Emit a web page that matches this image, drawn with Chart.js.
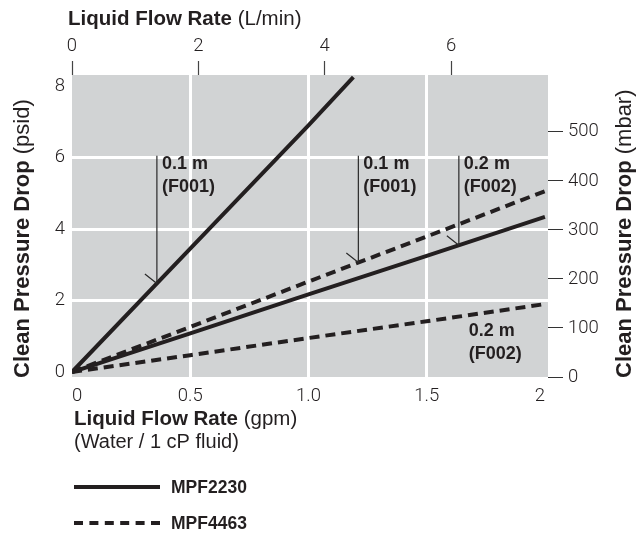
<!DOCTYPE html>
<html><head><meta charset="utf-8">
<script src="https://cdn.jsdelivr.net/npm/chart.js@4"></script>
<style>html,body{margin:0;padding:0;background:#fff;}canvas{display:block;}</style>
</head><body>
<canvas id="c" width="638" height="556" style="width:638px;height:556px"></canvas>
<script>
// ---- data ----
const flowGpm        = [0, 0.5, 1.0, 1.5, 2.0];
const mpf2230F001Gpm = [0, 0.5, 1.0, 1.19];
const mpf2230F001    = [0, 3.45, 6.90, 8.25];
const mpf2230F002    = [0, 1.08, 2.17, 3.25, 4.34];
const mpf4463F001    = [0, 1.26, 2.53, 3.79, 5.06];
const mpf4463F002    = [0, 0.47, 0.95, 1.42, 1.90];
const gpmTicks       = [0, 0.5, 1.0, 1.5, 2];
const gpmTickLabels  = ['0', '0.5', '1.0', '1.5', '2'];
const lpmTicks       = [0, 2, 4, 6];
const psidTicks      = [0, 2, 4, 6, 8];
const mbarTicks      = [0, 100, 200, 300, 400, 500];
const seriesNames    = ['MPF2230', 'MPF4463'];
const noteLabels     = [['0.1 m', '(F001)'], ['0.1 m', '(F001)'], ['0.2 m', '(F002)'], ['0.2 m', '(F002)']];

// ---- styling / layout ----
const FONT = "'Liberation Sans', Arial, Helvetica, sans-serif";
const TICKFONT = "Roboto, 'Liberation Sans', Arial, sans-serif";
const INK = '#231f20';
const BG = '#d1d3d4';
const W = 638, H = 556;
const AREA = {left: 72, right: 548, top: 75, bottom: 377};
Chart.defaults.font.family = FONT;
Chart.defaults.color = INK;
const tickFont = {family: TICKFONT, size: 18.5, weight: '300'};

function pts(xa, ya) { return xa.map((x, i) => ({x: x, y: ya[i]})); }
const solid = [], dashed = [10, 6];
const datasets = [
  {label: seriesNames[0] + ' F001', data: pts(mpf2230F001Gpm, mpf2230F001), borderDash: solid},
  {label: seriesNames[0] + ' F002', data: pts(flowGpm, mpf2230F002), borderDash: solid},
  {label: seriesNames[1] + ' F001', data: pts(flowGpm, mpf4463F001), borderDash: dashed},
  {label: seriesNames[1] + ' F002', data: pts(flowGpm, mpf4463F002), borderDash: dashed}
].map(d => Object.assign({borderColor: INK, borderWidth: 4, pointRadius: 0, fill: false,
  tension: 0, borderCapStyle: 'butt', xAxisID: 'x', yAxisID: 'y'}, d));

// annotation placement: dataset index, x (gpm) of arrow tip, leader top (psid)
const notes = [
  {ds: 0, x: 0.359, top: 6.05, arrow: true, label: noteLabels[0]},
  {ds: 2, x: 1.211, top: 6.05, arrow: true, label: noteLabels[1]},
  {ds: 1, x: 1.636, top: 6.05, arrow: true, label: noteLabels[2]},
  {ds: 3, x: 1.657, top: 1.37, arrow: false, label: noteLabels[3]}
];

function interp(data, x) {
  for (let i = 0; i < data.length - 1; i++) {
    const a = data[i], b = data[i + 1];
    if (x >= a.x && x <= b.x) return a.y + (b.y - a.y) * (x - a.x) / (b.x - a.x);
  }
  return data[data.length - 1].y;
}

function runs(ctx, x, y, parts, size) {
  let cx = x;
  parts.forEach(p => {
    ctx.font = (p.b ? 'bold ' : '') + size + 'px ' + FONT;
    ctx.fillText(p.t, cx, y);
    cx += ctx.measureText(p.t).width;
  });
}

const deco = {
  id: 'deco',
  beforeDraw(chart) {
    const c = chart.ctx, a = chart.chartArea;
    c.save();
    c.fillStyle = '#fff'; c.fillRect(0, 0, W, H);
    c.fillStyle = BG; c.fillRect(a.left, a.top, a.right - a.left, a.bottom - a.top);
    c.restore();
  },
  afterDatasetsDraw(chart) {
    const c = chart.ctx, sx = chart.scales.x, sy = chart.scales.y;
    c.save();
    notes.forEach(n => {
      const px = sx.getPixelForValue(n.x);
      const topPx = sy.getPixelForValue(n.top);
      if (n.arrow) {
        const tipY = sy.getPixelForValue(interp(chart.data.datasets[n.ds].data, n.x));
        c.strokeStyle = '#2a2a2a'; c.lineWidth = 1.2;
        c.beginPath();
        c.moveTo(px, topPx); c.lineTo(px, tipY);
        c.moveTo(px, tipY); c.lineTo(px - 12, tipY - 9.5);
        c.stroke();
      }
      c.fillStyle = INK;
      c.font = 'bold 18px ' + FONT;
      c.textBaseline = 'middle'; c.textAlign = 'left';
      c.fillText(n.label[0], px + 5, topPx + 8);
      c.fillText(n.label[1], px + 5, topPx + 31);
    });
    c.restore();
  },
  afterDraw(chart) {
    const c = chart.ctx;
    c.save();
    c.fillStyle = INK; c.textBaseline = 'alphabetic'; c.textAlign = 'left';
    runs(c, 68, 25, [{t: 'Liquid Flow Rate ', b: true}, {t: '(L/min)'}], 20.5);
    runs(c, 74, 425, [{t: 'Liquid Flow Rate ', b: true}, {t: '(gpm)'}], 20.5);
    runs(c, 74, 448, [{t: '(Water / 1 cP fluid)'}], 20);
    // rotated titles
    c.save(); c.translate(29, 378); c.rotate(-Math.PI / 2);
    runs(c, 0, 0, [{t: 'Clean Pressure Drop ', b: true}, {t: '(psid)'}], 22);
    c.restore();
    c.save(); c.translate(631, 378); c.rotate(-Math.PI / 2);
    runs(c, 0, 0, [{t: 'Clean Pressure Drop ', b: true}, {t: '(mbar)'}], 22);
    c.restore();
    // legend
    c.strokeStyle = INK; c.lineWidth = 4; c.lineCap = 'butt';
    c.beginPath(); c.moveTo(74, 487); c.lineTo(160, 487); c.stroke();
    c.setLineDash([9, 6.4]);
    c.beginPath(); c.moveTo(74, 523); c.lineTo(160, 523); c.stroke();
    c.setLineDash([]);
    c.textBaseline = 'middle';
    runs(c, 171, 488, [{t: seriesNames[0], b: true}], 17.5);
    runs(c, 171, 524, [{t: seriesNames[1], b: true}], 17.5);
    c.restore();
  }
};

const clear = 'rgba(0,0,0,0)';
new Chart(document.getElementById('c'), {
  type: 'line',
  data: {datasets: datasets},
  plugins: [deco],
  options: {
    responsive: false, animation: false, devicePixelRatio: 1,
    layout: {padding: 0},
    plugins: {legend: {display: false}, tooltip: {enabled: false}, title: {display: false}},
    scales: {
      x: {
        type: 'linear', position: 'bottom', min: 0, max: 2.013,
        afterBuildTicks: s => { s.ticks = gpmTicks.map(v => ({value: v})); },
        afterFit: s => { s.height = H - AREA.bottom; },
        grid: {drawTicks: false, lineWidth: 3,
          color: c => (c.tick && c.tick.value > 0 && c.tick.value < 2) ? '#ffffff' : clear},
        border: {display: false},
        ticks: {align: 'inner', padding: 8, font: tickFont, color: INK, maxRotation: 0,
          callback: v => gpmTickLabels[gpmTicks.indexOf(v)]}
      },
      x2: {
        type: 'linear', position: 'top', min: 0, max: 7.535,
        afterBuildTicks: s => { s.ticks = lpmTicks.map(v => ({value: v})); },
        afterFit: s => { s.height = AREA.top; },
        grid: {drawOnChartArea: false, drawTicks: true, tickLength: 14, tickColor: '#444', tickWidth: 1.2},
        border: {display: false},
        ticks: {padding: 4, font: tickFont, color: INK, maxRotation: 0, callback: v => String(v)}
      },
      y: {
        type: 'linear', position: 'left', min: -0.14, max: 8.31,
        afterBuildTicks: s => { s.ticks = psidTicks.map(v => ({value: v})); },
        afterFit: s => { s.width = AREA.left; },
        grid: {drawTicks: false, lineWidth: 3,
          color: c => (c.tick && c.tick.value > 0 && c.tick.value < 8) ? '#ffffff' : clear},
        border: {display: false},
        ticks: {padding: 7, font: tickFont, color: INK, callback: v => String(v)}
      },
      y2: {
        type: 'linear', position: 'right', min: 0, max: 616,
        afterBuildTicks: s => { s.ticks = mbarTicks.map(v => ({value: v})); },
        afterFit: s => { s.width = W - AREA.right; },
        grid: {drawOnChartArea: false, drawTicks: true, tickLength: 15, tickColor: '#333', tickWidth: 1},
        border: {display: false},
        ticks: {padding: 5, font: tickFont, color: INK, callback: v => String(v)}
      }
    }
  }
});
</script>
</body></html>
